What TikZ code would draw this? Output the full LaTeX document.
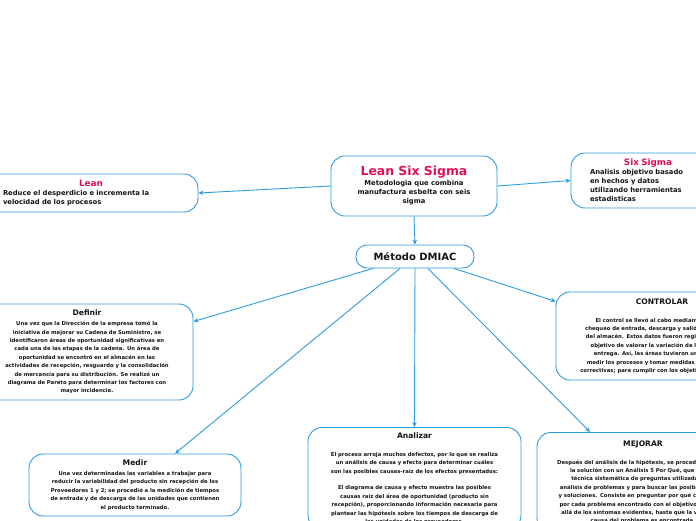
\documentclass[tikz,border=0pt]{standalone}
\usepackage{fontspec}
\setmainfont{DejaVu Sans}
\usetikzlibrary{arrows.meta,positioning,calc}
\definecolor{mapblue}{RGB}{45,155,225}
\definecolor{mappink}{RGB}{225,15,90}
\definecolor{mapink}{RGB}{20,20,20}
\newcommand{\bodytxt}{\fontsize{5.3}{8.4}\selectfont\bfseries}
\newcommand{\leadtxt}{\fontsize{6.8}{9}\selectfont\bfseries}
\newcommand{\ttl}{\fontsize{7.6}{9}\selectfont\bfseries}
\newcommand{\sidettl}{\fontsize{8.8}{10}\selectfont\bfseries}

\begin{document}
\begin{tikzpicture}[
  x=1pt, y=-1pt,
  font=\bodytxt,
  topic/.style={draw=mapblue, line width=0.9pt, rounded corners=14pt, fill=white,
                align=center, inner sep=0pt, text=mapink},
  ar/.style={-{Stealth[length=5pt,width=4.5pt]}, line width=0.9pt, mapblue}
]
\useasboundingbox (0,0) rectangle (696,520);
\clip (0,0) rectangle (696,520);

% central topic
\node[topic, minimum width=166pt, minimum height=60pt, font=\leadtxt] (lss) at (414,186) {%
  {\color{mappink}\fontsize{12.4}{14}\selectfont Lean Six Sigma}\\[1pt]
  Metodologia que combina\\manufactura esbelta con seis\\sigma};

\node[topic, rounded corners=11pt, minimum width=118pt, minimum height=23pt,
      font=\fontsize{10}{12}\selectfont\bfseries] (dmiac) at (415,256.5) {Método DMIAC};

% side topics
\node[topic, align=left, text width=176pt, inner xsep=19pt, minimum height=38pt, font=\leadtxt] (lean) at (91,193) {%
  {\centering\color{mappink}\sidettl Lean\par}
  Reduce el desperdicio e incrementa la\\velocidad de los procesos};

\node[topic, align=left, text width=116pt, inner xsep=19pt, minimum height=55pt, font=\leadtxt] (six) at (648,180.5) {%
  {\centering\color{mappink}\sidettl Six Sigma\par}
  Analisis objetivo basado\\en hechos y datos\\utilizando herramientas\\estadisticas};

% DMIAC phases
\node[topic, text width=212pt, minimum height=96pt] (defi) at (87,352) {%
  {\ttl Definir}\\[1.6pt]
  Una vez que la Dirección de la empresa tomó la\\
  iniciativa de mejorar su Cadena de Suministro, se\\
  identificaron áreas de oportunidad significativas en\\
  cada una de las etapas de la cadena. Un área de\\
  oportunidad se encontró en el almacén en las\\
  actividades de recepción, resguardo y la consolidación\\
  de mercancía para su distribución. Se realizó un\\
  diagrama de Pareto para determinar los factores con\\
  mayor incidencia.};

\node[topic, text width=212pt, minimum height=62pt] (medir) at (135,485) {%
  {\ttl Medir}\\[1.6pt]
  Una vez determinadas las variables a trabajar para\\
  reducir la variabilidad del producto sin recepción de los\\
  Proveedores 1 y 2; se procedió a la medición de tiempos\\
  de entrada y de descarga de las unidades que contienen\\
  el producto terminado.};

\node[topic, text width=213pt, inner ysep=5pt, anchor=north] (anal) at (414.5,427) {%
  {\ttl Analizar}\\[9.6pt]
  El proceso arroja muchos defectos, por lo que se realiza\\
  un análisis de causa y efecto para determinar cuáles\\
  son las posibles causas-raíz de los efectos presentados:\\[8.4pt]
  El diagrama de causa y efecto muestra las posibles\\
  causas raíz del área de oportunidad (producto sin\\
  recepción), proporcionando información necesaria para\\
  plantear las hipótesis sobre los tiempos de descarga de\\
  las unidades de los proveedores.};

\node[topic, text width=212pt, inner ysep=8pt, anchor=north] (mejo) at (643,432) {%
  {\ttl MEJORAR}\\[9.6pt]
  Después del análisis de la hipótesis, se procedió a buscar\\
  la solución con un Análisis 5 Por Qué, que es una\\
  técnica sistemática de preguntas utilizada en el\\
  análisis de problemas y para buscar las posibles causas\\
  y soluciones. Consiste en preguntar por qué cinco veces\\
  por cada problema encontrado con el objetivo de ir más\\
  allá de los síntomas evidentes, hasta que la verdadera\\
  causa del problema es encontrada.};

\node[topic, text width=212pt, minimum height=88pt] (ctrl) at (662,336) {%
  {\ttl CONTROLAR}\\[9.6pt]
  El control se llevó al cabo mediante listas de\\
  chequeo de entrada, descarga y salida de unidades\\
  del almacén. Estos datos fueron registrados con el\\
  objetivo de valorar la variación de las fechas de\\
  entrega. Así, las áreas tuvieron una forma de\\
  medir los procesos y tomar medidas preventivas y\\
  correctivas; para cumplir con los objetivos de entrega.};

\draw[ar] (lss.west) -- (lean.east);
\draw[ar] (lss.east) -- (six.west);
\draw[ar] (lss.south) -- (dmiac.north);
\draw[ar] ($(dmiac.south)+(-42,0)$) -- (defi.16);
\draw[ar] ($(dmiac.south)+(-15,0)$) -- ($(medir.north)+(40,0)$);
\draw[ar] (dmiac.south) -- (anal.north);
\draw[ar] ($(dmiac.south)+(13,0)$) -- ($(mejo.north)+(-53,0)$);
\draw[ar] ($(dmiac.south)+(39,0)$) -- (ctrl.162);
\end{tikzpicture}
\end{document}
